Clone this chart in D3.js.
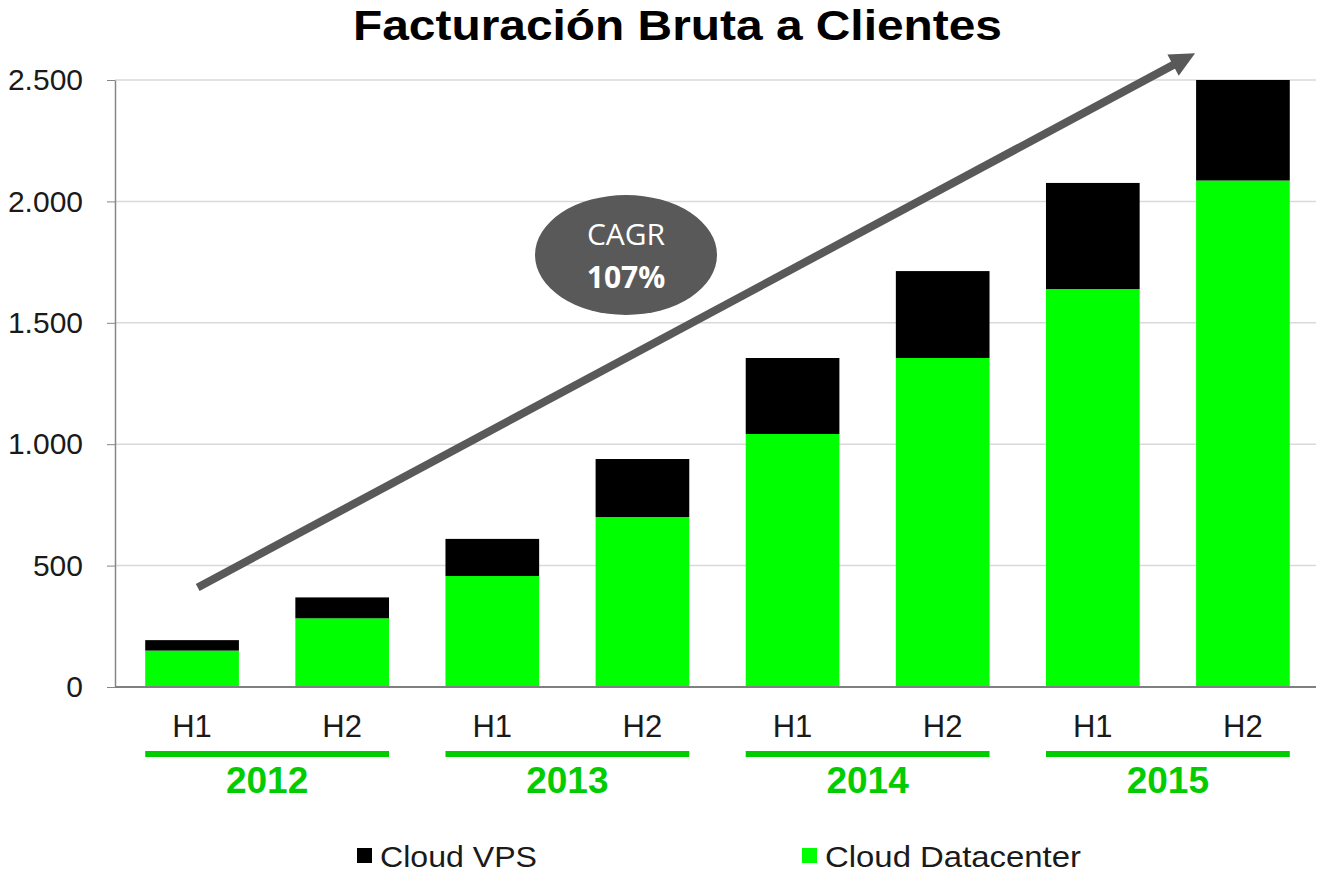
<!DOCTYPE html>
<html>
<head>
<meta charset="utf-8">
<script src="https://cdn.jsdelivr.net/npm/d3@7"></script>
<style>
  body { margin: 0; background: #fff; }
  text { font-family: Arial, "Liberation Sans", sans-serif; }
</style>
</head>
<body>
<div id="container"></div>
<script>
/* DATA */
const periods = ["2012 H1", "2012 H2", "2013 H1", "2013 H2", "2014 H1", "2014 H2", "2015 H1", "2015 H2"];
const halves = ["H1", "H2", "H1", "H2", "H1", "H2", "H1", "H2"];
const years = ["2012", "2013", "2014", "2015"];
const datacenter = [150, 283, 457, 700, 1042, 1355, 1639, 2086];
const vps = [43, 86, 153, 239, 313, 358, 437, 414];
const yTicks = [0, 500, 1000, 1500, 2000, 2500];
const seriesNames = ["Cloud VPS", "Cloud Datacenter"];
const cagrLabel = ["CAGR", "107%"];

/* CONSTANTS */
const width = 1320, height = 875;
const margin = { top: 80, bottom: 188, left: 115, right: 4 };
const green = "#00ff00", yearGreen = "#00cc00", grey = "#595959";

const table = periods.map((p, i) => ({ period: p, datacenter: datacenter[i], vps: vps[i] }));
const stack = d3.stack().keys(["datacenter", "vps"])(table);

// SCALES
const xScale = d3.scaleBand()
  .domain(periods)
  .range([margin.left + 2, width - margin.right + 2])
  .paddingInner(0.376)
  .paddingOuter(0.188);

const yScale = d3.scaleLinear()
  .domain([0, 2500])
  .range([height - margin.bottom, margin.top]);

const fmt = d3.formatLocale({ decimal: ",", thousands: ".", grouping: [3], currency: ["", "€"] }).format(",d");

// SVG
const svg = d3.select("#container")
  .append("svg")
  .attr("width", width)
  .attr("height", height);

svg.append("rect").attr("width", width).attr("height", height).attr("fill", "#fff");

// GRID
svg.append("g")
  .selectAll("line")
  .data(yTicks.filter(d => d > 0))
  .join("line")
  .attr("x1", margin.left)
  .attr("x2", width - margin.right)
  .attr("y1", d => yScale(d))
  .attr("y2", d => yScale(d))
  .attr("stroke", "#d9d9d9")
  .attr("stroke-width", 1.5);

// Y AXIS
const yAxis = d3.axisLeft(yScale)
  .tickValues(yTicks)
  .tickFormat(fmt)
  .tickSizeInner(8)
  .tickSizeOuter(0)
  .tickPadding(24);

const yAxisGroup = svg.append("g")
  .attr("transform", `translate(${margin.left}, 0)`)
  .call(yAxis);
yAxisGroup.select(".domain").attr("stroke", "#868686").attr("stroke-width", 1.5);
yAxisGroup.selectAll(".tick line").attr("stroke", "#868686");
yAxisGroup.selectAll(".tick text")
  .attr("font-size", 30)
  .attr("font-family", "Arial, 'Liberation Sans', sans-serif")
  .attr("fill", "#1a1a1a");

// BARS
svg.append("g")
  .selectAll("g")
  .data(stack)
  .join("g")
  .attr("fill", d => d.key === "datacenter" ? green : "#000")
  .selectAll("rect")
  .data(d => d)
  .join("rect")
  .attr("x", d => xScale(d.data.period))
  .attr("width", xScale.bandwidth())
  .attr("y", d => yScale(d[1]))
  .attr("height", d => yScale(d[0]) - yScale(d[1]));

// X BASELINE
svg.append("line")
  .attr("x1", margin.left)
  .attr("x2", width - margin.right)
  .attr("y1", yScale(0))
  .attr("y2", yScale(0))
  .attr("stroke", "#808080")
  .attr("stroke-width", 2);

// HALF LABELS
svg.append("g")
  .selectAll("text")
  .data(periods)
  .join("text")
  .attr("x", d => xScale(d) + xScale.bandwidth() / 2)
  .attr("y", 737)
  .attr("text-anchor", "middle")
  .attr("font-size", 31)
  .attr("fill", "#1a1a1a")
  .text((d, i) => halves[i]);

// YEAR GROUPS
const yearG = svg.append("g")
  .selectAll("g")
  .data(years)
  .join("g");

yearG.append("line")
  .attr("x1", (d, i) => xScale(periods[i * 2]))
  .attr("x2", (d, i) => xScale(periods[i * 2 + 1]) + xScale.bandwidth())
  .attr("y1", 754)
  .attr("y2", 754)
  .attr("stroke", yearGreen)
  .attr("stroke-width", 6);

yearG.append("text")
  .attr("x", (d, i) => (xScale(periods[i * 2]) + xScale(periods[i * 2 + 1]) + xScale.bandwidth()) / 2)
  .attr("y", 793)
  .attr("text-anchor", "middle")
  .attr("font-size", 37)
  .attr("font-weight", "bold")
  .attr("fill", yearGreen)
  .text(d => d);

// ARROW (trend annotation)
const x0 = xScale(periods[0]) + xScale.bandwidth() * 0.56, y0 = yScale(410);
const x1 = xScale(periods[7]) - 1, y1 = yScale(2610);
const len = Math.hypot(x1 - x0, y1 - y0);
const ux = (x1 - x0) / len, uy = (y1 - y0) / len;
const headLen = 25, headW = 24;
const bx = x1 - ux * headLen, by = y1 - uy * headLen;

svg.append("line")
  .attr("x1", x0).attr("y1", y0)
  .attr("x2", bx + ux * 2).attr("y2", by + uy * 2)
  .attr("stroke", grey)
  .attr("stroke-width", 8);

svg.append("path")
  .attr("d", `M${x1},${y1} L${bx - uy * headW / 2},${by + ux * headW / 2} L${bx + uy * headW / 2},${by - ux * headW / 2} Z`)
  .attr("fill", grey);

// CAGR BUBBLE
const cx = 626, cy = 255;
svg.append("ellipse")
  .attr("cx", cx).attr("cy", cy)
  .attr("rx", 91).attr("ry", 60)
  .attr("fill", grey);

svg.append("text")
  .attr("x", cx).attr("y", 245)
  .attr("text-anchor", "middle")
  .attr("font-size", 30)
  .attr("fill", "#fff")
  .style("font-family", "'Open Sans', sans-serif")
  .text(cagrLabel[0]);

svg.append("text")
  .attr("x", cx).attr("y", 288)
  .attr("text-anchor", "middle")
  .attr("font-size", 30)
  .attr("font-weight", "bold")
  .attr("fill", "#fff")
  .style("font-family", "'Open Sans', sans-serif")
  .text(cagrLabel[1]);

// TITLE
svg.append("text")
  .attr("x", 353)
  .attr("y", 40)
  .attr("font-size", 43)
  .attr("font-weight", "bold")
  .attr("textLength", 649)
  .attr("lengthAdjust", "spacingAndGlyphs")
  .attr("fill", "#000")
  .text("Facturación Bruta a Clientes");

// LEGEND
const legendX = [357, 802];
const legendW = [157, 256];
const legend = svg.append("g")
  .selectAll("g")
  .data(seriesNames)
  .join("g")
  .attr("transform", (d, i) => `translate(${legendX[i]}, 848)`);

legend.append("rect")
  .attr("width", 15)
  .attr("height", 15)
  .attr("fill", (d, i) => i === 0 ? "#000" : green);

legend.append("text")
  .attr("x", 23)
  .attr("y", 19)
  .attr("font-size", 29)
  .attr("textLength", (d, i) => legendW[i])
  .attr("lengthAdjust", "spacingAndGlyphs")
  .attr("fill", "#1a1a1a")
  .text(d => d);
</script>
</body>
</html>
